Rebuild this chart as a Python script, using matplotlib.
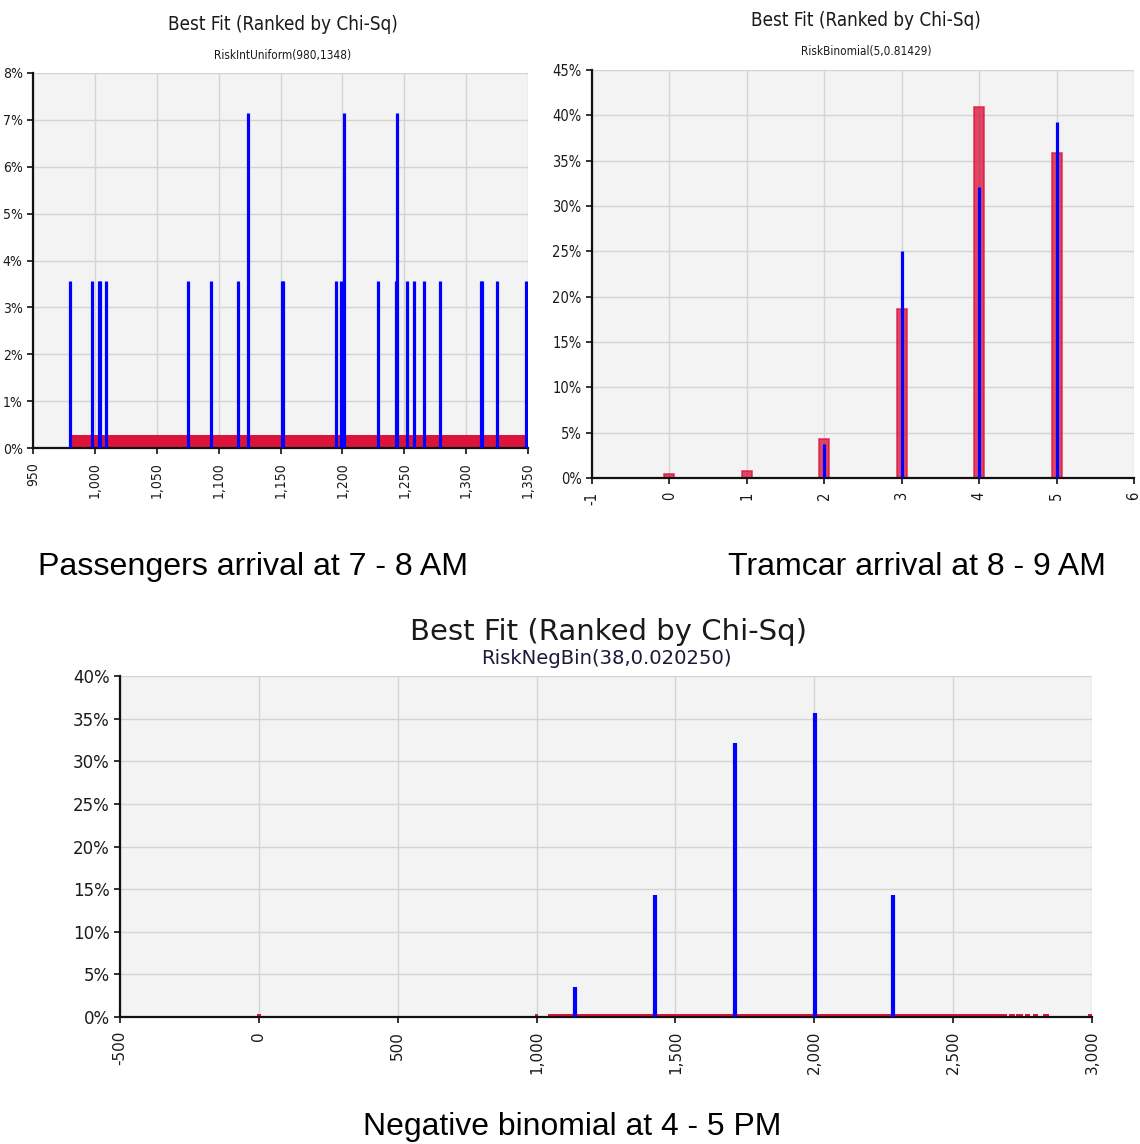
import matplotlib
matplotlib.use("Agg")
import matplotlib.pyplot as plt
from matplotlib.ticker import FixedLocator, FuncFormatter
from matplotlib import font_manager as fm
from matplotlib.font_manager import FontProperties

# ---------------- data ----------------
# Panel A: Passengers arrival 7-8 AM (RiskIntUniform fit)
a_fit_lo = 980
a_fit_hi = 1348
a_fit_pct = 0.27
a_obs_x = [980, 998, 1003, 1004, 1009, 1075, 1094, 1116, 1124, 1151, 1152,
           1195, 1199, 1201, 1229, 1243, 1244, 1252, 1258, 1266, 1279,
           1312, 1313, 1325, 1348]
a_obs_pct = [3.57, 3.57, 3.57, 3.57, 3.57, 3.57, 3.57, 3.57, 7.14, 3.57, 3.57,
             3.57, 3.57, 7.14, 3.57, 3.57, 7.14, 3.57, 3.57, 3.57, 3.57,
             3.57, 3.57, 3.57, 3.57]
a_xticks = [950, 1000, 1050, 1100, 1150, 1200, 1250, 1300, 1350]
a_yticks = [0, 1, 2, 3, 4, 5, 6, 7, 8]

# Panel B: Tramcar arrival 8-9 AM (RiskBinomial fit)
b_fit_x = [0, 1, 2, 3, 4, 5]
b_fit_pct = [0.4, 0.8, 4.3, 18.6, 40.9, 35.8]
b_obs_x = [2, 3, 4, 5]
b_obs_pct = [3.7, 25.0, 32.1, 39.3]
b_xticks = [-1, 0, 1, 2, 3, 4, 5, 6]
b_yticks = [0, 5, 10, 15, 20, 25, 30, 35, 40, 45]

# Panel C: Negative binomial 4-5 PM
c_fit_start = [-6, 994, 1040, 2700, 2728, 2757, 2787, 2822, 2985]
c_fit_end = [6, 1006, 2695, 2722, 2750, 2777, 2807, 2845, 3000]
c_fit_pct = [0.4, 0.4, 0.4, 0.4, 0.4, 0.4, 0.4, 0.4, 0.4]
c_obs_x = [1139, 1427, 1716, 2004, 2285]
c_obs_pct = [3.57, 14.29, 32.14, 35.71, 14.29]
c_xticks = [-500, 0, 500, 1000, 1500, 2000, 2500, 3000]
c_yticks = [0, 5, 10, 15, 20, 25, 30, 35, 40]

title_txt = "Best Fit (Ranked by Chi-Sq)"
a_sub = "RiskIntUniform(980,1348)"
b_sub = "RiskBinomial(5,0.81429)"
c_sub = "RiskNegBin(38,0.020250)"
captions = ["Passengers arrival at 7 - 8 AM", "Tramcar arrival at 8 - 9 AM",
            "Negative binomial at 4 - 5 PM"]

# ---------------- fonts ----------------
narrow_file = None
for f in fm.fontManager.ttflist:
    n = f.fname.replace(" ", "")
    if "LiberationSansNarrow-Regular" in n:
        narrow_file = f.fname
        break
if narrow_file is None:
    for f in fm.fontManager.ttflist:
        n = f.fname.replace(" ", "")
        if "DejaVuSansCondensed.ttf" in n:
            narrow_file = f.fname
            break
if narrow_file is not None:
    def NARROWP(size):
        return FontProperties(fname=narrow_file, size=size)
else:
    def NARROWP(size):
        return FontProperties(family=["Liberation Sans", "DejaVu Sans"], size=size)

WIDE = ["DejaVu Sans"]
ARIAL = ["Liberation Sans", "DejaVu Sans"]
BG = "#f3f3f3"
GRID = "#d4d4d4"
BLUE = "#0000ff"
RED = "#dc143c"
TXT = "#1a1a1a"

W, H = 1140, 1144
fig = plt.figure(figsize=(W / 100, H / 100), dpi=100)


def box(l, r, t, b):
    return [l / W, (H - b) / H, (r - l) / W, (b - t) / H]


def style(ax, xticks, yticks, propfn, fs_y, fs_x, xfmt, xpad=4):
    ax.set_facecolor(BG)
    ax.set_xlim(xticks[0], xticks[-1])
    ax.set_ylim(yticks[0], yticks[-1])
    ax.xaxis.set_major_locator(FixedLocator(xticks))
    ax.yaxis.set_major_locator(FixedLocator(yticks))
    ax.xaxis.set_major_formatter(FuncFormatter(xfmt))
    ax.yaxis.set_major_formatter(FuncFormatter(lambda v, p: f"{v:.0f}%"))
    ax.grid(True, color=GRID, lw=1.0, zorder=0)
    ax.set_axisbelow(True)
    for s in ["top", "right"]:
        ax.spines[s].set_visible(False)
    for s in ["left", "bottom"]:
        ax.spines[s].set_color("#111111")
        ax.spines[s].set_linewidth(1.6)
    ax.tick_params(axis="both", length=4, width=1.2, color="#111111",
                   labelcolor=TXT)
    ax.tick_params(axis="x", pad=xpad)
    for lab in ax.get_yticklabels():
        lab.set_fontproperties(propfn(fs_y))
    for lab in ax.get_xticklabels():
        lab.set_fontproperties(propfn(fs_x))
        lab.set_rotation(90)


def comma(v, p):
    return f"{int(round(v)):,}"


def wideP(size):
    return FontProperties(family=WIDE, size=size)


texts_to_fit = []


def ftext(x, y, s, target_w, prop, color=TXT):
    t = fig.text(x / W, 1 - y / H, s, ha="center", va="center",
                 fontproperties=prop, color=color)
    if target_w:
        texts_to_fit.append((t, target_w))
    return t


# ---------- Panel A ----------
axA = fig.add_axes(box(33, 528, 73, 448))
axA.bar([a_fit_lo], [a_fit_pct], width=a_fit_hi - a_fit_lo, align="edge",
        color=RED, edgecolor="none", zorder=2)
axA.vlines(a_obs_x, 0, a_obs_pct, color=BLUE, lw=2.3, zorder=3)
style(axA, a_xticks, a_yticks, NARROWP, 10, 10, comma, xpad=6)
ftext(283, 24, title_txt, None, NARROWP(13.5))
ftext(283, 55, a_sub, None, NARROWP(8.5))

# ---------- Panel B ----------
axB = fig.add_axes(box(592, 1134, 70, 478))
axB.bar(b_fit_x, b_fit_pct, width=0.13, color=RED, alpha=0.78,
        edgecolor=RED, lw=1.2, zorder=2)
axB.vlines(b_obs_x, 0, b_obs_pct, color=BLUE, lw=2.3, zorder=3)
style(axB, b_xticks, b_yticks, NARROWP, 10.5, 10.5, lambda v, p: f"{int(v)}", xpad=6)
ftext(866, 20, title_txt, None, NARROWP(13.5))
ftext(866, 51, b_sub, None, NARROWP(8.5))

# ---------- Panel C ----------
axC = fig.add_axes(box(120, 1092, 676, 1017))
for s0, s1, h in zip(c_fit_start, c_fit_end, c_fit_pct):
    axC.bar([s0], [h], width=s1 - s0, align="edge", color=RED,
            edgecolor="none", zorder=2)
axC.vlines(c_obs_x, 0, c_obs_pct, color=BLUE, lw=3.0, zorder=3)
style(axC, c_xticks, c_yticks, wideP, 12, 11, comma, xpad=6)
ftext(608, 632, title_txt, 396, wideP(20))
ftext(606, 659, c_sub, 251, wideP(13), color="#1a1a3a")

# ---------- captions ----------
capP = lambda s: FontProperties(family=ARIAL, size=s)
ftext(253, 567, captions[0], 430, capP(23), color="black")
ftext(917, 567, captions[1], 378, capP(23), color="black")
ftext(572, 1127, captions[2], 419, capP(23), color="black")

# scale the free texts so their widths match the layout
fig.canvas.draw()
r = fig.canvas.get_renderer()
for t, tw in texts_to_fit:
    bb = t.get_window_extent(renderer=r)
    if bb.width > 0:
        t.set_fontsize(t.get_fontsize() * tw / bb.width)

fig.savefig("out.png", dpi=100, facecolor="white")
